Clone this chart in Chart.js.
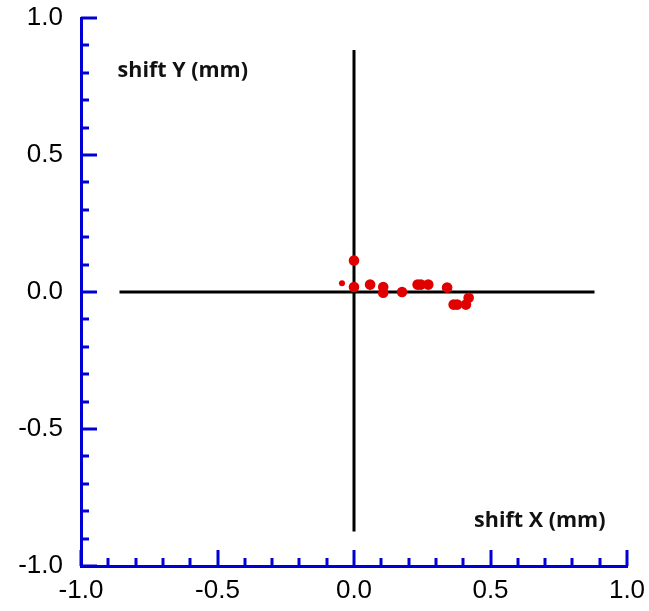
<!DOCTYPE html>
<html>
<head>
<meta charset="utf-8">
<script src="https://cdn.jsdelivr.net/npm/chart.js@4.4.0/dist/chart.umd.min.js"></script>
<style>
  html, body { margin: 0; padding: 0; background: #ffffff; }
  #wrap { width: 649px; height: 611px; }
</style>
</head>
<body>
<div id="wrap"><canvas id="c" width="649" height="611"></canvas></div>
<script>
// ---- data ----
const shiftX = [0.000, 0.000, 0.059, 0.107, 0.107, 0.176, 0.233, 0.245, 0.272, 0.341, 0.365, 0.378, 0.410, 0.420];
const shiftY = [0.115, 0.018, 0.027, 0.018, -0.003, 0.000, 0.027, 0.027, 0.027, 0.016, -0.046, -0.046, -0.046, -0.021];
const smallX = [-0.044];
const smallY = [0.032];
const crossH = [[-0.859, 0], [0.881, 0]];
const crossV = [[0, -0.874], [0, 0.883]];
const axisMin = -1.0;
const axisMax = 1.0;
const majorTicks = [-1.0, -0.5, 0.0, 0.5, 1.0];
const minorTicks = [-0.9, -0.8, -0.7, -0.6, -0.4, -0.3, -0.2, -0.1, 0.1, 0.2, 0.3, 0.4, 0.6, 0.7, 0.8, 0.9];
const labelTexts = ['shift Y (mm)', 'shift X (mm)'];
const labelAnchors = [[-0.866, 0.808], [0.440, -0.834]];

const toPts = (xs, ys) => xs.map((x, i) => ({ x: x, y: ys[i] }));
const toLine = (arr) => arr.map(p => ({ x: p[0], y: p[1] }));

const BLUE = '#0000d4';

const innerTicks = {
  id: 'innerTicks',
  afterDraw(chart) {
    const ctx = chart.ctx;
    const xs = chart.scales.x, ys = chart.scales.y;
    const a = chart.chartArea;
    ctx.save();
    ctx.strokeStyle = BLUE;
    ctx.lineWidth = 3;
    ctx.lineCap = 'butt';
    const draw = (vals, len) => {
      vals.forEach(v => {
        const px = Math.round(xs.getPixelForValue(v));
        ctx.beginPath();
        ctx.moveTo(px, a.bottom);
        ctx.lineTo(px, a.bottom - len);
        ctx.stroke();
        const py = Math.round(ys.getPixelForValue(v));
        ctx.beginPath();
        ctx.moveTo(a.left, py);
        ctx.lineTo(a.left + len, py);
        ctx.stroke();
      });
    };
    draw(majorTicks, 16);
    draw(minorTicks, 8);
    // axis texts
    ctx.fillStyle = '#111111';
    ctx.font = 'bold 21.5px "Open Sans", Lato, sans-serif';
    ctx.textAlign = 'left';
    ctx.textBaseline = 'middle';
    labelTexts.forEach((t, i) => {
      ctx.fillText(t, xs.getPixelForValue(labelAnchors[i][0]), ys.getPixelForValue(labelAnchors[i][1]));
    });
    ctx.restore();
  }
};

new Chart(document.getElementById('c'), {
  type: 'scatter',
  data: {
    datasets: [
      {
        type: 'line', data: toLine(crossH), borderColor: '#000000', borderWidth: 3,
        pointRadius: 0, fill: false, showLine: true, order: 3
      },
      {
        type: 'line', data: toLine(crossV), borderColor: '#000000', borderWidth: 3,
        pointRadius: 0, fill: false, showLine: true, order: 3
      },
      {
        data: toPts(shiftX, shiftY), backgroundColor: '#e00000', borderColor: '#e00000',
        borderWidth: 0, pointRadius: 5.3, order: 1
      },
      {
        data: toPts(smallX, smallY), backgroundColor: '#e00000', borderColor: '#e00000',
        borderWidth: 0, pointRadius: 3, order: 1
      }
    ]
  },
  options: {
    responsive: false,
    animation: false,
    events: [],
    layout: { padding: { top: 18, right: 22, left: 0, bottom: 0 } },
    plugins: { legend: { display: false }, tooltip: { enabled: false } },
    scales: {
      x: {
        type: 'linear', min: axisMin, max: axisMax,
        afterFit(s) { s.height = 45; s.paddingLeft = 0; s.paddingRight = 0; },
        afterBuildTicks(s) { s.ticks = majorTicks.map(v => ({ value: v })); },
        grid: { display: false, drawTicks: false },
        border: { display: true, color: BLUE, width: 3 },
        ticks: {
          padding: 9, color: '#000000', maxRotation: 0, autoSkip: false,
          font: { family: '"Liberation Sans", Arial, sans-serif', size: 26 },
          callback: v => v.toFixed(1)
        }
      },
      y: {
        type: 'linear', min: axisMin, max: axisMax,
        afterFit(s) { s.width = 81; s.paddingTop = 0; s.paddingBottom = 0; },
        afterBuildTicks(s) { s.ticks = majorTicks.map(v => ({ value: v })); },
        grid: { display: false, drawTicks: false },
        border: { display: true, color: BLUE, width: 3 },
        ticks: {
          padding: 18, color: '#000000', autoSkip: false,
          font: { family: '"Liberation Sans", Arial, sans-serif', size: 26 },
          callback: v => v.toFixed(1)
        }
      }
    }
  },
  plugins: [innerTicks]
});
</script>
</body>
</html>
